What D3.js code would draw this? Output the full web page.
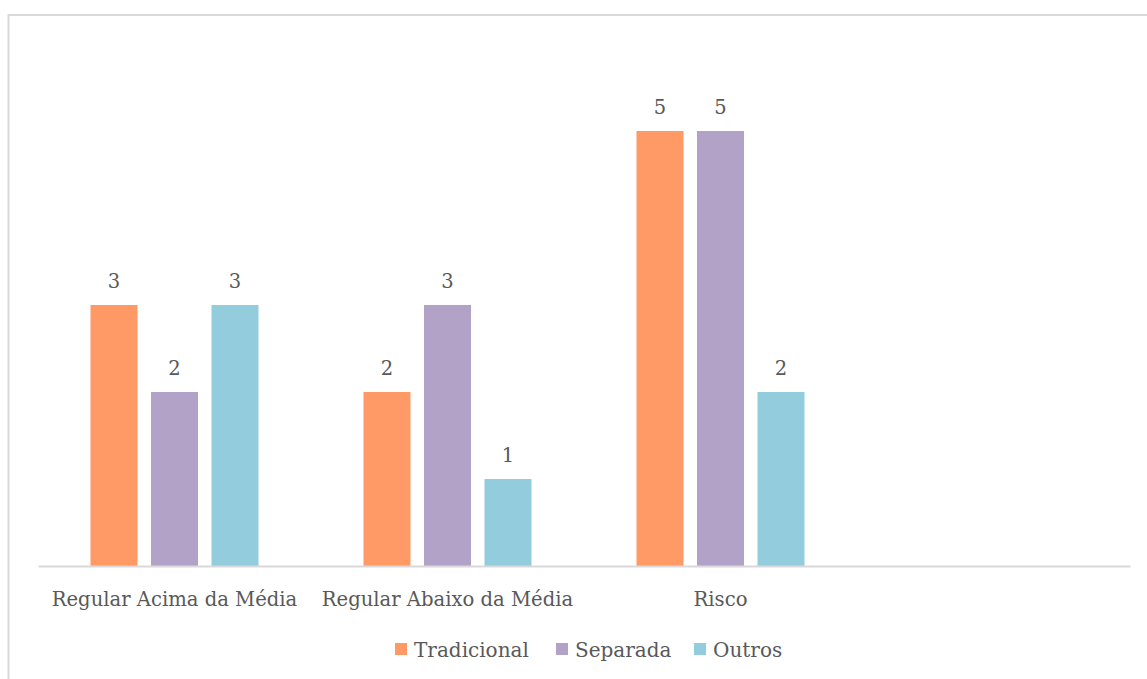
<!DOCTYPE html>
<html>
<head>
<meta charset="utf-8">
<script src="https://cdn.jsdelivr.net/npm/d3@7"></script>
<style>
  html, body { margin: 0; padding: 0; background: #fff; }
  svg { display: block; }
  text { font-family: "DejaVu Serif", "Liberation Serif", serif; fill: #595959; }
</style>
</head>
<body>
<svg id="chart" width="1147" height="679"></svg>
<script>
// Categories (the last slot is an empty category on the axis)
const categories = ["Regular Acima da Média", "Regular Abaixo da Média", "Risco", ""];
const seriesNames = ["Tradicional", "Separada", "Outros"];
const tradicional = [3, 2, 5, null];
const separada = [2, 3, 5, null];
const outros = [3, 1, 2, null];
const colors = ["#FF9966", "#B3A2C7", "#93CDDD"];
const yDomain = [0, 6];

const seriesValues = [tradicional, separada, outros];

const svg = d3.select("#chart");
const W = 1147, H = 679;

// Chart frame
svg.append("rect")
  .attr("x", 8.5).attr("y", 15).attr("width", W + 10).attr("height", H)
  .attr("fill", "none").attr("stroke", "#d9d9d9").attr("stroke-width", 2);

const plot = { left: 38, right: 1130, top: 44, bottom: 566 };

const x0 = d3.scaleBand().domain(categories.map((c, i) => i))
  .range([plot.left, plot.right]).paddingInner(0).paddingOuter(0);
const x1 = d3.scaleBand().domain(seriesNames)
  .range([0, x0.bandwidth()]).paddingInner(0.223).paddingOuter(0.868);
const y = d3.scaleLinear().domain(yDomain).range([plot.bottom, plot.top]);

// Bars and value labels
seriesNames.forEach((name, si) => {
  const vals = seriesValues[si];
  const data = vals.map((v, i) => ({ i, v })).filter(d => d.v != null);
  const g = svg.append("g");
  g.selectAll("rect").data(data).join("rect")
    .attr("x", d => x0(d.i) + x1(name))
    .attr("y", d => y(d.v))
    .attr("width", x1.bandwidth())
    .attr("height", d => y(0) - y(d.v))
    .attr("fill", colors[si]);
  g.selectAll("text").data(data).join("text")
    .attr("x", d => x0(d.i) + x1(name) + x1.bandwidth() / 2)
    .attr("y", d => y(d.v) - 17)
    .attr("text-anchor", "middle")
    .attr("font-size", 19.5)
    .text(d => d.v);
});

// Category axis
const xAxis = d3.axisBottom(x0).tickSize(0).tickFormat(i => categories[i]);
const ax = svg.append("g").attr("transform", `translate(0,${plot.bottom})`).call(xAxis);
ax.select(".domain").attr("stroke", "#d9d9d9").attr("stroke-width", 2);
ax.selectAll("text")
  .attr("font-size", 19.6)
  .attr("dy", 0).attr("y", 40)
  .style("font-family", "'DejaVu Serif', 'Liberation Serif', serif")
  .attr("fill", "#595959");

// Legend
const legendX = [395, 556, 694];
const lg = svg.append("g");
seriesNames.forEach((name, si) => {
  lg.append("rect").attr("x", legendX[si]).attr("y", 643)
    .attr("width", 12).attr("height", 12).attr("fill", colors[si]);
  lg.append("text").attr("x", legendX[si] + 19).attr("y", 657)
    .attr("font-size", 20).text(name);
});
</script>
</body>
</html>
